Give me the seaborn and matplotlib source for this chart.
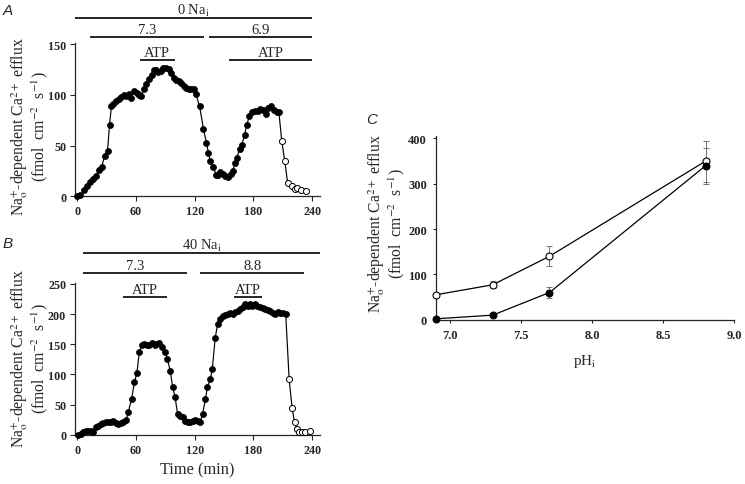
import numpy as np
import pandas as pd
import matplotlib
matplotlib.use("Agg")
import matplotlib.pyplot as plt
import seaborn as sns

# ---------------- data ----------------
# Panel A (0 Na_i)
a_time_filled = [0, 3, 7, 10, 13, 16, 19, 22, 25, 28, 31, 33, 35, 37, 40, 43, 45, 48, 50, 53,
                 55, 58, 61, 63, 65, 68, 70, 73, 76, 78, 81, 83, 86, 88, 91, 94, 96, 99, 101,
                 104, 106, 109, 111, 114, 116, 119, 121, 125, 129, 132, 134, 136, 139, 142,
                 144, 146, 149, 151, 154, 157, 159, 161, 163, 166, 168, 171, 173, 176, 179,
                 182, 185, 187, 190, 193, 195, 198, 201, 204, 206]
a_flux_filled = [0, 1, 6, 10, 14, 17, 20, 26, 29, 40, 45, 70, 89, 91, 94, 96, 98, 100, 99, 101,
                 97, 104, 102, 100, 99, 106, 111, 116, 120, 124, 124, 122, 123, 126, 126, 125,
                 121, 117, 115, 114, 112, 109, 107, 106, 106, 106, 101, 89, 66, 53, 43, 35, 29,
                 21, 21, 24, 22, 20, 19, 22, 25, 33, 38, 47, 51, 60, 70, 79, 83, 84, 84, 86, 85,
                 81, 87, 89, 85, 83, 83]
a_time_open = [209, 212, 215, 219, 222, 225, 229, 234]
a_flux_open = [54, 35, 13, 10, 7, 8, 6, 5.5]

# Panel B (40 Na_i)
b_time_filled = [1, 3.5, 6, 9, 11, 14, 16.5, 19, 21.5, 24, 26.5, 29.5, 32, 34.5, 37, 39.5, 42,
                 44.5, 47, 50, 52, 55.5, 58.5, 61, 63.5, 66, 68.5, 71, 73.5, 76, 79, 81, 84,
                 86.5, 90, 92, 95, 97.5, 100, 102.5, 105, 108, 110, 113, 115.5, 118, 120.5,
                 123, 125.5, 128, 131, 133, 136, 138, 141, 143.5, 146, 149, 151, 154, 156,
                 159, 161.5, 164, 166.5, 169, 171.5, 174, 177, 179, 182, 184, 187, 189.5,
                 192, 194.5, 197, 200, 202.5, 205, 207.5, 210, 213]
b_flux_filled = [0, 2, 4, 5.5, 5.5, 6.5, 4, 12, 15, 18, 19, 20.5, 21.5, 20.5, 23, 19, 18, 19,
                 20.5, 24, 37, 59, 87, 103, 137, 148, 150, 148, 149, 152, 148, 150, 152, 146,
                 137, 126, 106, 79, 62, 35, 31.5, 29, 23, 20.5, 20.5, 22, 24, 23, 20.5, 34, 59,
                 79, 92, 109, 161, 184, 192, 197, 199, 200, 201, 200, 203, 205, 208.5, 211,
                 216, 214, 216, 214, 216, 214, 212, 210, 208.5, 207, 205, 201, 200, 203, 202,
                 201, 200]
b_time_open = [216.5, 219.5, 222, 224.5, 227, 230, 233, 237.5]
b_flux_open = [92, 45, 20.5, 9, 4, 4, 5, 6.5]

# Panel C
c_ph = [6.9, 7.3, 7.7, 8.8]
c_open = [55, 77, 140, 350]
c_open_err = [0, 8, 22, 45]
c_filled = [2, 10, 60, 340]
c_filled_err = [0, 0, 12, 40]

# condition bars: (label, start, end)
a_bars_top = [("0 Na$_{\\rm i}$", -2, 240)]
a_bars_ph = [("7.3", 13.5, 129.5), ("6.9", 134.5, 240)]
a_bars_atp = [("ATP", 64, 99.5), ("ATP", 155, 240)]
b_bars_top = [("40 Na$_{\\rm i}$", 6, 248.5)]
b_bars_ph = [("7.3", 6, 112), ("8.8", 125.5, 232)]
b_bars_atp = [("ATP", 47, 91.5), ("ATP", 160, 189)]

time_ticks = [0, 60, 120, 180, 240]
a_yticks = [0, 50, 100, 150]
b_yticks = [0, 50, 100, 150, 200, 250]
c_xticks = [7.0, 7.5, 8.0, 8.5, 9.0]
c_yticks = [0, 100, 200, 300, 400]

# ---------------- style ----------------
sns.set_style("ticks")
plt.rcParams["font.family"] = ["Liberation Serif", "DejaVu Serif"]
plt.rcParams["mathtext.fontset"] = "stix"
plt.rcParams["axes.linewidth"] = 0.9

fig = plt.figure(figsize=(7.45, 4.85), dpi=100)
axA = fig.add_axes([0.101, 0.5932, 0.3285, 0.316])
axB = fig.add_axes([0.101, 0.1016, 0.3285, 0.3134])
axC = fig.add_axes([0.5852, 0.3388, 0.400, 0.3783])

ylabel = ("Na$^{+}_{\\rm o}$-dependent Ca$^{2+}$ efflux\n"
          "(fmol  cm$^{-2}$  s$^{-1}$)")


def trace(ax, tf, ff, to, fo, ms=19):
    df_line = pd.DataFrame({"t": list(tf) + list(to), "v": list(ff) + list(fo)})
    sns.lineplot(data=df_line, x="t", y="v", ax=ax, color="black", lw=0.85,
                 sort=False, estimator=None)
    sns.scatterplot(x=tf, y=ff, ax=ax, color="black", edgecolor="black", s=ms,
                    linewidth=0.5, zorder=3, clip_on=False)
    sns.scatterplot(x=to, y=fo, ax=ax, color="white", edgecolor="black", s=ms,
                    linewidth=0.7, zorder=3, clip_on=False)


def bars(ax, rows, y, dy):
    for lab, s, e in rows:
        ax.plot([s, e], [y, y], color="black", lw=1.2, clip_on=False,
                solid_capstyle="butt")
        ax.text((s + e) / 2, y + dy, lab, ha="center", va="bottom",
                fontsize=10.5, clip_on=False)


def style_time(ax, yticks, ymax, ycen):
    ax.set_xlim(-2, 248)
    ax.set_ylim(0, ymax)
    ax.set_xticks(time_ticks)
    ax.set_xticklabels([str(t) for t in time_ticks])
    ax.set_yticks(yticks)
    sns.despine(ax=ax)
    ax.tick_params(direction="out", length=3.5, width=0.8, labelsize=8.7, pad=3)
    for lbl in ax.get_xticklabels() + ax.get_yticklabels():
        lbl.set_fontweight("bold")
    ax.set_xlabel("")
    ax.set_ylabel(ylabel, fontsize=11.3, linespacing=0.92)
    ax.yaxis.set_label_coords(-0.105, ycen)


# Panel A
trace(axA, a_time_filled, a_flux_filled, a_time_open, a_flux_open)
style_time(axA, a_yticks, 151, 0.46)
bars(axA, a_bars_top, 175.5, 0.0)
bars(axA, a_bars_ph, 156.5, 1.0)
bars(axA, a_bars_atp, 134.5, 1.0)

# Panel B
trace(axB, b_time_filled, b_flux_filled, b_time_open, b_flux_open)
style_time(axB, b_yticks, 252, 0.51)
bars(axB, b_bars_top, 301, 0.5)
bars(axB, b_bars_ph, 268, 1.5)
bars(axB, b_bars_atp, 228, 1.5)
axB.set_xlabel("Time (min)", fontsize=11.8, labelpad=4)

# Panel C
axC.errorbar(c_ph, c_open, yerr=c_open_err, fmt="none", ecolor="0.45",
             elinewidth=0.7, capsize=2, capthick=0.7, zorder=1)
axC.errorbar(c_ph, c_filled, yerr=c_filled_err, fmt="none", ecolor="0.45",
             elinewidth=0.7, capsize=2, capthick=0.7, zorder=1)
sns.lineplot(x=c_ph, y=c_open, ax=axC, color="black", lw=0.9, sort=False,
             estimator=None, marker="o", markersize=5, markerfacecolor="white",
             markeredgecolor="black", markeredgewidth=0.8, zorder=3, clip_on=False)
sns.lineplot(x=c_ph, y=c_filled, ax=axC, color="black", lw=0.9, sort=False,
             estimator=None, marker="o", markersize=5, markerfacecolor="black",
             markeredgecolor="black", zorder=3, clip_on=False)
axC.set_xlim(6.9, 9.0)
axC.set_ylim(0, 405)
axC.set_xticks(c_xticks)
axC.set_xticklabels(["7.0", "7.5", "8.0", "8.5", "9.0"])
axC.set_yticks(c_yticks)
sns.despine(ax=axC)
axC.tick_params(direction="out", length=2.5, width=0.8, labelsize=9, pad=4)
for lbl in axC.get_xticklabels() + axC.get_yticklabels():
    lbl.set_fontweight("bold")
axC.set_xlabel("pH$_{\\rm i}$", fontsize=11, labelpad=8)
axC.set_ylabel(ylabel, fontsize=11.3, linespacing=0.92)
axC.yaxis.set_label_coords(-0.098, 0.53)

# panel letters
for x, y, t in [(0.004, 0.992, "A"), (0.004, 0.512, "B"), (0.491, 0.768, "C")]:
    fig.text(x, y, t, fontsize=11, style="italic", family="Liberation Sans",
             ha="left", va="top")

fig.savefig("out.png", dpi=100)
